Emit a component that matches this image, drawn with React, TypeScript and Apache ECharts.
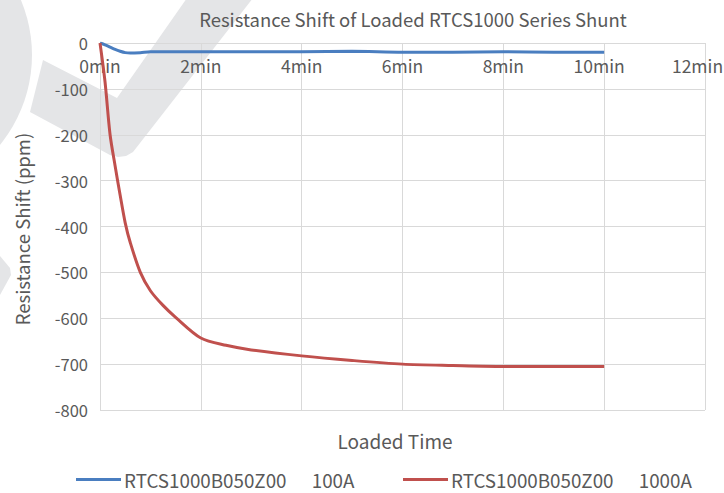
import React, { useEffect, useRef } from "react";
import * as echarts from "echarts";

const timeMin = [0, 0.1, 0.2, 0.3, 0.4, 0.5, 0.6, 0.8, 1.0, 1.25, 1.5, 2, 2.5, 3, 4, 5, 6, 7, 8, 9, 10];
const shift100A = [0, -4, -9, -14, -18, -21, -22, -21, -19, -19, -19, -19, -19, -19, -19, -18, -20, -20, -19, -20, -20];
const shift1000A = [0, -85, -200, -268, -332, -392, -435, -500, -540, -572, -598, -643, -659, -669, -682, -692, -700, -703, -705, -705, -705];
const seriesNames = ["RTCS1000B050Z00      100A", "RTCS1000B050Z00      1000A"];

const FONT = "'Noto Sans CJK SC', 'Noto Sans', sans-serif";
const TXT = "#595959";
const WM = "#e4e5e7";

export default function App() {
  const ref = useRef<HTMLDivElement>(null);
  useEffect(() => {
    if (!ref.current) return;
    const chart = echarts.init(ref.current, undefined, { renderer: "svg" });
    const pair = (ys: number[]) => timeMin.map((t, i) => [t, ys[i]]);
    const xLabelStyle = { color: TXT, fontSize: 17.5, fontFamily: FONT, lineHeight: 16 };
    const legendText = { color: TXT, fontSize: 18.8, fontFamily: FONT, lineHeight: 18, padding: [0, 0, 0, -2] };
    chart.setOption({
      animation: false,
      backgroundColor: "#ffffff",
      textStyle: { fontFamily: FONT },
      grid: { left: 100, right: 19, top: 43, bottom: 83, containLabel: false, outerBoundsMode: "none" },
      graphic: [
        { type: "circle", z: -10, silent: true, shape: { cx: -110, cy: 55, r: 142 }, style: { fill: WM } },
        {
          type: "polygon", z: -10, silent: true,
          shape: { points: [[43, 60], [117, 98], [187, -2], [253, -2], [133, 152], [126, 156], [118, 157], [110, 155], [30, 112]] },
          style: { fill: WM },
        },
        { type: "polygon", z: -10, silent: true, shape: { points: [[0, 256], [10, 268], [11, 275], [0, 295]] }, style: { fill: WM } },
        {
          type: "text", z: 10, x: 413, y: 19,
          style: { text: "Resistance Shift of Loaded RTCS1000 Series Shunt", fill: TXT, font: `18.5px ${FONT}`, textAlign: "center", textVerticalAlign: "middle" },
        },
        {
          type: "text", z: 10, x: 22, y: 229, rotation: Math.PI / 2,
          style: { text: "Resistance Shift (ppm)", fill: TXT, font: `18.5px ${FONT}`, textAlign: "center", textVerticalAlign: "middle" },
        },
        {
          type: "text", z: 10, x: 395, y: 440,
          style: { text: "Loaded Time", fill: TXT, font: `19px ${FONT}`, textAlign: "center", textVerticalAlign: "middle" },
        },
      ],
      legend: [
        {
          left: 76, top: 470, padding: 0, itemWidth: 45, itemHeight: 3, itemGap: 0, icon: "rect",
          data: [seriesNames[0]],
          textStyle: legendText,
        },
        {
          left: 403, top: 470, padding: 0, itemWidth: 45, itemHeight: 3, itemGap: 0, icon: "rect",
          data: [seriesNames[1]],
          textStyle: legendText,
        },
      ],
      xAxis: {
        type: "value", min: 0, max: 12, interval: 2, position: "top",
        axisLine: { show: true, lineStyle: { color: "#d9d9d9", width: 1 } },
        axisTick: { show: false },
        axisLabel: {
          inside: true, margin: 14, ...xLabelStyle, showMaxLabel: true, showMinLabel: true,
          formatter: (v: number) => (v === 12 ? `{e|${v}min}` : v === 10 ? `{d|${v}min}` : `${v}min`),
          rich: {
            d: { ...xLabelStyle, padding: [0, 10, 0, 0] },
            e: { ...xLabelStyle, padding: [0, 15, 0, 0] },
          },
        },
        splitLine: { show: true, lineStyle: { color: "#d9d9d9", width: 1 } },
      },
      yAxis: {
        type: "value", min: -800, max: 0, interval: 100,
        axisLine: { show: false },
        axisTick: { show: false },
        axisLabel: { color: TXT, fontSize: 16.5, fontFamily: FONT, margin: 12, lineHeight: 14 },
        splitLine: { show: true, lineStyle: { color: "#d9d9d9", width: 1 } },
      },
      series: [
        {
          name: seriesNames[0], type: "line", data: pair(shift100A), smooth: 0.3,
          showSymbol: false, symbol: "none", lineStyle: { color: "#4a7ec0", width: 3 }, itemStyle: { color: "#4a7ec0" },
        },
        {
          name: seriesNames[1], type: "line", data: pair(shift1000A), smooth: 0.3,
          showSymbol: false, symbol: "none", lineStyle: { color: "#c0504d", width: 3 }, itemStyle: { color: "#c0504d" },
        },
      ],
    });
    return () => chart.dispose();
  }, []);
  return <div ref={ref} style={{ position: "fixed", left: 0, top: 0, width: 724, height: 493 }} />;
}
